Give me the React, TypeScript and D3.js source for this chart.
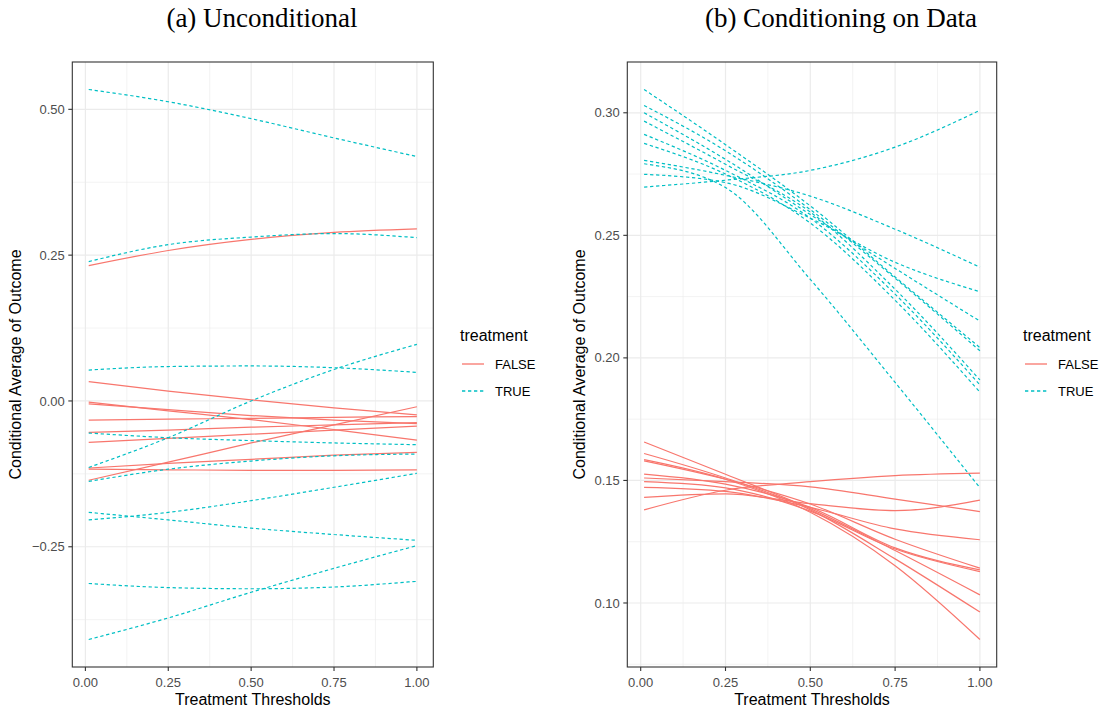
import React from "react";
import * as d3 from "d3";

// Treatment thresholds at which each curve is read
const thresholds = [0.01, 0.25, 0.5, 0.75, 1.0];

// (a) Unconditional
const uncondFalse = [
  [0.232, 0.258, 0.277, 0.289, 0.295],
  [0.033, 0.017, 0.002, -0.012, -0.024],
  [-0.002, -0.017, -0.032, -0.049, -0.067],
  [-0.005, -0.015, -0.025, -0.033, -0.039],
  [-0.033, -0.031, -0.03, -0.028, -0.027],
  [-0.054, -0.05, -0.045, -0.041, -0.037],
  [-0.071, -0.064, -0.057, -0.05, -0.043],
  [-0.136, -0.105, -0.072, -0.041, -0.01],
  [-0.115, -0.107, -0.1, -0.093, -0.088],
  [-0.117, -0.118, -0.119, -0.119, -0.118],
];
const uncondTrue = [
  [0.534, 0.513, 0.484, 0.451, 0.419],
  [0.239, 0.268, 0.281, 0.287, 0.28],
  [0.053, 0.059, 0.06, 0.057, 0.049],
  [-0.114, -0.063, 0.0, 0.054, 0.097],
  [-0.055, -0.063, -0.068, -0.072, -0.075],
  [-0.138, -0.117, -0.103, -0.094, -0.091],
  [-0.204, -0.191, -0.171, -0.148, -0.124],
  [-0.191, -0.204, -0.218, -0.229, -0.239],
  [-0.313, -0.32, -0.322, -0.319, -0.309],
  [-0.409, -0.372, -0.328, -0.287, -0.248],
];

// (b) Conditioning on Data
const condFalse = [
  [0.138, 0.146, 0.1495, 0.152, 0.153],
  [0.1431, 0.1445, 0.1405, 0.1377, 0.142],
  [0.151, 0.1495, 0.1474, 0.1424, 0.1373],
  [0.1472, 0.1455, 0.139, 0.1302, 0.1258],
  [0.158, 0.1505, 0.1404, 0.126, 0.1142],
  [0.1526, 0.1485, 0.139, 0.1225, 0.1135],
  [0.1495, 0.147, 0.1375, 0.122, 0.1128],
  [0.1657, 0.1525, 0.1385, 0.1214, 0.1033],
  [0.161, 0.151, 0.138, 0.118, 0.0963],
  [0.1585, 0.1505, 0.137, 0.1152, 0.0851],
];
const condTrue = [
  [0.2697, 0.2725, 0.2765, 0.286, 0.301],
  [0.3095, 0.287, 0.262, 0.233, 0.2042],
  [0.303, 0.2845, 0.2605, 0.2325, 0.2029],
  [0.3, 0.281, 0.2585, 0.2365, 0.215],
  [0.2966, 0.279, 0.2595, 0.228, 0.191],
  [0.2912, 0.2765, 0.257, 0.226, 0.189],
  [0.2875, 0.275, 0.255, 0.2235, 0.186],
  [0.2792, 0.2695, 0.232, 0.19, 0.147],
  [0.2806, 0.2745, 0.266, 0.2525, 0.237],
  [0.2749, 0.2715, 0.257, 0.239, 0.227],
];

const xTicks = [0, 0.25, 0.5, 0.75, 1.0];
const xTickLabels = ["0.00", "0.25", "0.50", "0.75", "1.00"];
const yTicksA = [-0.25, 0, 0.25, 0.5];
const yTickLabelsA = ["\u22120.25", "0.00", "0.25", "0.50"];
const yTicksB = [0.1, 0.15, 0.2, 0.25, 0.3];
const yTickLabelsB = ["0.10", "0.15", "0.20", "0.25", "0.30"];
const legendLabels = ["FALSE", "TRUE"];

const COL_F = "#F8766D";
const COL_T = "#00BFC4";
const DASH = "3.3 2.7";
const SANS = "'Liberation Sans', Arial, Helvetica, sans-serif";
const SERIF = "'Liberation Serif', 'Times New Roman', serif";

function expand(vals: number[], f = 0.05): [number, number] {
  const lo = d3.min(vals) as number;
  const hi = d3.max(vals) as number;
  const r = hi - lo;
  return [lo - r * f, hi + r * f];
}

function minorBreaks(majors: number[], domain: [number, number]) {
  const step = majors[1] - majors[0];
  const out: number[] = [];
  for (let v = majors[0] - step / 2; v <= domain[1]; v += step) {
    if (v >= domain[0] && v <= domain[1]) out.push(v);
  }
  return out;
}

type PanelProps = {
  left: number;
  right: number;
  top: number;
  bottom: number;
  falseSeries: number[][];
  trueSeries: number[][];
  yTicks: number[];
  yLabels: string[];
  title: string;
  titleX: number;
  yTitleX: number;
  legendX: number;
};

function Panel(p: PanelProps) {
  const xDom = expand(thresholds);
  const x = d3.scaleLinear().domain(xDom).range([p.left, p.right]);
  const all = [...p.falseSeries.flat(), ...p.trueSeries.flat()];
  const yDom = expand(all);
  const y = d3.scaleLinear().domain(yDom).range([p.bottom, p.top]);
  const line = d3
    .line<number>()
    .x((_, i) => x(thresholds[i]))
    .y((d) => y(d))
    .curve(d3.curveMonotoneX);
  const xMinor = minorBreaks(xTicks, xDom);
  const yMinor = minorBreaks(p.yTicks, yDom);
  const tickLen = 4;
  const midY = (p.top + p.bottom) / 2;
  const cx = (p.left + p.right) / 2;
  return (
    <g>
      <text x={p.titleX} y={27} textAnchor="middle" fontFamily={SERIF} fontSize={27} fill="#000">
        {p.title}
      </text>
      <rect x={p.left} y={p.top} width={p.right - p.left} height={p.bottom - p.top} fill="#fff" />
      {yMinor.map((v) => (
        <line key={"ym" + v} x1={p.left} x2={p.right} y1={y(v)} y2={y(v)} stroke="#EBEBEB" strokeWidth={0.6} />
      ))}
      {xMinor.map((v) => (
        <line key={"xm" + v} y1={p.top} y2={p.bottom} x1={x(v)} x2={x(v)} stroke="#EBEBEB" strokeWidth={0.6} />
      ))}
      {p.yTicks.map((v) => (
        <line key={"yg" + v} x1={p.left} x2={p.right} y1={y(v)} y2={y(v)} stroke="#EBEBEB" strokeWidth={1.2} />
      ))}
      {xTicks.map((v) => (
        <line key={"xg" + v} y1={p.top} y2={p.bottom} x1={x(v)} x2={x(v)} stroke="#EBEBEB" strokeWidth={1.2} />
      ))}
      {p.falseSeries.map((s, i) => (
        <path key={"f" + i} d={line(s) || ""} fill="none" stroke={COL_F} strokeWidth={1.2} />
      ))}
      {p.trueSeries.map((s, i) => (
        <path key={"t" + i} d={line(s) || ""} fill="none" stroke={COL_T} strokeWidth={1.2} strokeDasharray={DASH} />
      ))}
      <rect
        x={p.left}
        y={p.top}
        width={p.right - p.left}
        height={p.bottom - p.top}
        fill="none"
        stroke="#333333"
        strokeWidth={1.1}
      />
      {p.yTicks.map((v, i) => (
        <g key={"yt" + v}>
          <line x1={p.left - tickLen} x2={p.left} y1={y(v)} y2={y(v)} stroke="#333333" strokeWidth={1.1} />
          <text
            x={p.left - tickLen - 3.5}
            y={y(v) + 4.6}
            textAnchor="end"
            fontFamily={SANS}
            fontSize={13}
            fill="#4D4D4D"
          >
            {p.yLabels[i]}
          </text>
        </g>
      ))}
      {xTicks.map((v, i) => (
        <g key={"xt" + v}>
          <line x1={x(v)} x2={x(v)} y1={p.bottom} y2={p.bottom + tickLen} stroke="#333333" strokeWidth={1.1} />
          <text x={x(v)} y={686.5} textAnchor="middle" fontFamily={SANS} fontSize={13} fill="#4D4D4D">
            {xTickLabels[i]}
          </text>
        </g>
      ))}
      <text x={cx} y={705} textAnchor="middle" fontFamily={SANS} fontSize={16} fill="#000">
        Treatment Thresholds
      </text>
      <text
        transform={`translate(${p.yTitleX},${midY}) rotate(-90)`}
        textAnchor="middle"
        fontFamily={SANS}
        fontSize={16}
        fill="#000"
      >
        Conditional Average of Outcome
      </text>
      <g>
        <text x={p.legendX} y={341} fontFamily={SANS} fontSize={16} fill="#000">
          treatment
        </text>
        {legendLabels.map((lab, i) => {
          const ky = 364 + i * 27;
          return (
            <g key={lab}>
              <line
                x1={p.legendX + 2}
                x2={p.legendX + 24}
                y1={ky}
                y2={ky}
                stroke={i === 0 ? COL_F : COL_T}
                strokeWidth={1.3}
                strokeDasharray={i === 0 ? undefined : DASH}
              />
              <text x={p.legendX + 35} y={ky + 4.6} fontFamily={SANS} fontSize={13} fill="#000">
                {lab}
              </text>
            </g>
          );
        })}
      </g>
    </g>
  );
}

export default function App() {
  return (
    <svg
      width={1102}
      height={711}
      style={{ position: "absolute", left: 0, top: 0, display: "block", background: "#fff" }}
    >
      <rect x={0} y={0} width={1102} height={711} fill="#fff" />
      <Panel
        left={72.3}
        right={433.3}
        top={62}
        bottom={667}
        falseSeries={uncondFalse}
        trueSeries={uncondTrue}
        yTicks={yTicksA}
        yLabels={yTickLabelsA}
        title="(a) Unconditional"
        titleX={262}
        yTitleX={21}
        legendX={460}
      />
      <Panel
        left={627.3}
        right={996.7}
        top={62}
        bottom={667}
        falseSeries={condFalse}
        trueSeries={condTrue}
        yTicks={yTicksB}
        yLabels={yTickLabelsB}
        title="(b) Conditioning on Data"
        titleX={841}
        yTitleX={585}
        legendX={1023}
      />
    </svg>
  );
}
